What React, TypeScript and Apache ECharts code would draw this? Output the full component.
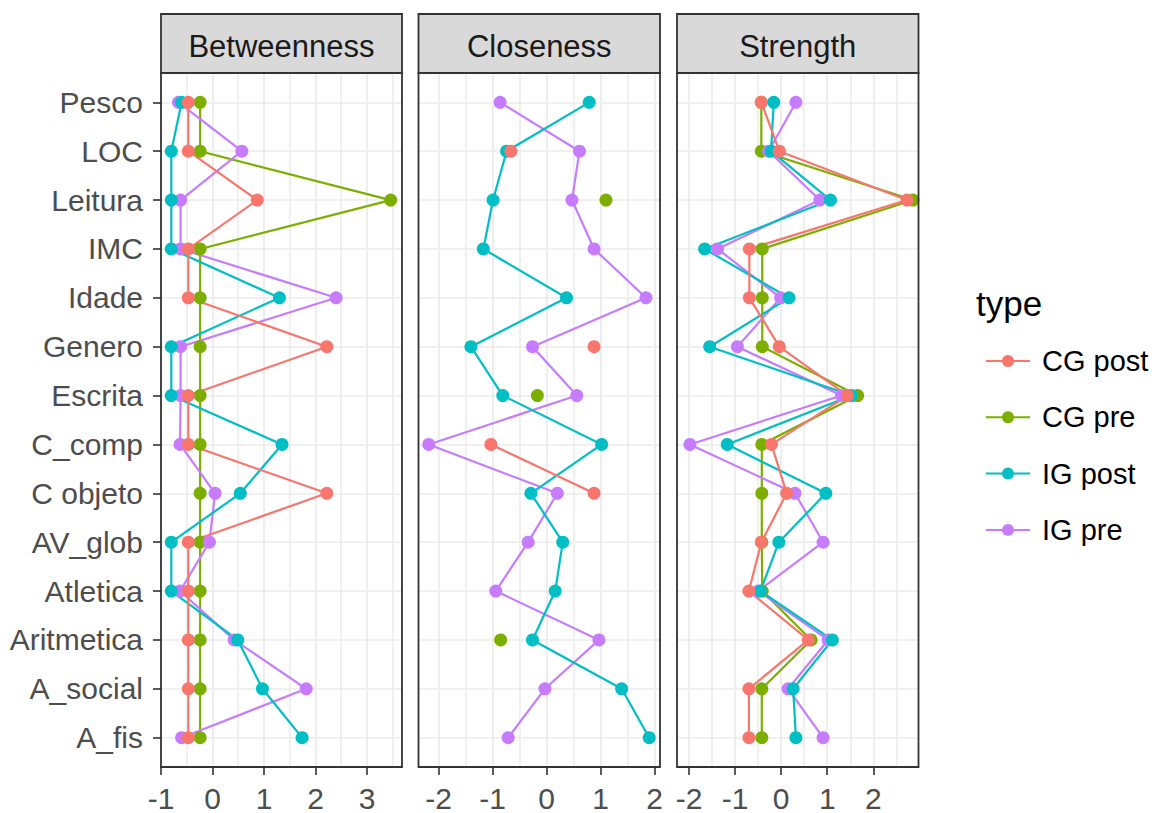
import React, { useEffect, useRef } from "react";
import * as echarts from "echarts";

const categories = [
  "Pesco", "LOC", "Leitura", "IMC", "Idade", "Genero", "Escrita",
  "C_comp", "C objeto", "AV_glob", "Atletica", "Aritmetica", "A_social", "A_fis",
];
const seriesNames = ["CG post", "CG pre", "IG post", "IG pre"];
const seriesColors = ["#F8766D", "#7CAE00", "#00BFC4", "#C77CFF"];
const panelTitles = ["Betweenness", "Closeness", "Strength"];

// Betweenness
const betCGpost = [-0.47, -0.47, 0.87, -0.47, -0.47, 2.22, -0.47, -0.47, 2.22, -0.47, -0.47, -0.47, -0.47, -0.47];
const betCGpre = [-0.24, -0.24, 3.46, -0.24, -0.24, -0.24, -0.24, -0.24, -0.24, -0.24, -0.24, -0.24, -0.24, -0.24];
const betIGpost = [-0.6, -0.8, -0.8, -0.8, 1.3, -0.8, -0.8, 1.35, 0.54, -0.8, -0.8, 0.49, 0.97, 1.74];
const betIGpre = [-0.66, 0.57, -0.62, -0.62, 2.4, -0.62, -0.62, -0.63, 0.05, -0.06, -0.63, 0.42, 1.82, -0.6];

// Closeness
const cloCGpost = [null, -0.66, null, null, null, 0.88, null, -1.03, 0.88, null, null, null, null, null];
const cloCGpre = [null, null, 1.1, null, null, null, -0.17, null, null, null, null, -0.85, null, null];
const cloIGpost = [0.79, -0.74, -0.99, -1.17, 0.37, -1.4, -0.81, 1.02, -0.29, 0.3, 0.16, -0.26, 1.39, 1.9];
const cloIGpre = [-0.86, 0.61, 0.47, 0.88, 1.84, -0.26, 0.56, -2.18, 0.2, -0.34, -0.94, 0.97, -0.03, -0.71];

// Strength
const strCGpost = [-0.43, -0.04, 2.73, -0.69, -0.69, -0.04, 1.44, -0.21, 0.12, -0.43, -0.7, 0.59, -0.7, -0.7];
const strCGpre = [-0.43, -0.43, 2.86, -0.41, -0.41, -0.41, 1.66, -0.42, -0.42, -0.42, -0.41, 0.65, -0.42, -0.42];
const strIGpost = [-0.16, -0.22, 1.07, -1.66, 0.17, -1.55, 1.53, -1.17, 0.97, -0.05, -0.45, 1.11, 0.26, 0.32];
const strIGpre = [0.32, -0.27, 0.84, -1.38, -0.01, -0.95, 1.31, -1.98, 0.3, 0.91, -0.5, 1.02, 0.15, 0.91];

// axis limits and ticks
const betLimits = [-1.0, 3.68];
const cloLimits = [-2.37, 2.1];
const strLimits = [-2.26, 2.98];
const betTicks = [-1, 0, 1, 2, 3];
const cloTicks = [-2, -1, 0, 1, 2];
const strTicks = [-2, -1, 0, 1, 2];
const betMinor = [-0.5, 0.5, 1.5, 2.5, 3.5];
const cloMinor = [-1.5, -0.5, 0.5, 1.5];
const strMinor = [-1.5, -0.5, 0.5, 1.5, 2.5];

const panelValues = [
  [betCGpost, betCGpre, betIGpost, betIGpre],
  [cloCGpost, cloCGpre, cloIGpost, cloIGpre],
  [strCGpost, strCGpre, strIGpost, strIGpre],
];
const panelLimits = [betLimits, cloLimits, strLimits];
const panelTicks = [betTicks, cloTicks, strTicks];
const panelMinor = [betMinor, cloMinor, strMinor];

// layout (pixels)
const FONT = '"Liberation Sans", Arial, Helvetica, sans-serif';
const panelLeft = [161, 418.5, 677];
const panelWidth = [241, 241.5, 241.5];
const panelTop = 73;
const panelBottom = 767;
const stripTop = 14;
const drawOrder = [1, 3, 2, 0];

export default function App() {
  const ref = useRef<HTMLDivElement>(null);

  useEffect(() => {
    if (!ref.current) return;
    const chart = echarts.init(ref.current, undefined, { renderer: "svg" });
    const catIdx = categories.map((_, i) => i);

    const grids: any[] = [];
    const xAxes: any[] = [];
    const yAxes: any[] = [];
    const lineSeries: any[] = [];
    const pointSeries: any[] = [];
    const graphics: any[] = [];

    panelTitles.forEach((title, p) => {
      grids.push({
        left: panelLeft[p],
        width: panelWidth[p],
        top: panelTop,
        height: panelBottom - panelTop,
        containLabel: false,
      });
      xAxes.push({
        type: "value",
        gridIndex: p,
        position: "bottom",
        min: panelLimits[p][0],
        max: panelLimits[p][1],
        axisLine: { show: false, onZero: false },
        axisTick: {
          show: true,
          customValues: panelTicks[p],
          length: 8,
          lineStyle: { color: "#333333", width: 1.6 },
        },
        axisLabel: {
          show: true,
          customValues: panelTicks[p],
          formatter: (v: number) => String(v),
          fontSize: 30,
          color: "#4D4D4D",
          fontFamily: FONT,
          margin: 16,
        },
        splitLine: { show: true, lineStyle: { color: "#EBEBEB", width: 1.7 } },
      });
      xAxes.push({
        type: "value",
        gridIndex: p,
        position: "top",
        min: panelLimits[p][0],
        max: panelLimits[p][1],
        axisLine: { show: false, onZero: false },
        axisTick: { show: false, customValues: panelMinor[p] },
        axisLabel: { show: false, customValues: panelMinor[p] },
        splitLine: { show: true, lineStyle: { color: "#EBEBEB", width: 1.5 } },
      });
      yAxes.push({
        type: "value",
        gridIndex: p,
        min: -0.6,
        max: 13.6,
        inverse: true,
        axisLine: { show: false, onZero: false },
        axisTick: {
          show: p === 0,
          customValues: catIdx,
          length: 8,
          lineStyle: { color: "#333333", width: 1.6 },
        },
        axisLabel: {
          show: p === 0,
          customValues: catIdx,
          formatter: (v: number) => categories[Math.round(v)] ?? "",
          fontSize: 30,
          color: "#4D4D4D",
          fontFamily: FONT,
          margin: 18,
          padding: [9, 0, 0, 0],
        },
        splitLine: { show: true, lineStyle: { color: "#EBEBEB", width: 1.7 } },
      });

      drawOrder.forEach((k) => {
        const vals = panelValues[p][k];
        lineSeries.push({
          type: "line",
          name: seriesNames[k],
          xAxisIndex: 2 * p,
          yAxisIndex: p,
          data: vals.map((v, i) => [v == null ? "-" : v, i]),
          symbol: "circle",
          symbolSize: 13,
          showSymbol: false,
          connectNulls: false,
          color: seriesColors[k],
          itemStyle: { color: seriesColors[k] },
          lineStyle: { color: seriesColors[k], width: 2.2 },
          silent: true,
          z: 2,
        });
        pointSeries.push({
          type: "scatter",
          name: seriesNames[k],
          xAxisIndex: 2 * p,
          yAxisIndex: p,
          data: vals
            .map((v, i) => (v == null ? null : [v, i]))
            .filter((d) => d !== null),
          symbol: "circle",
          symbolSize: 13,
          color: seriesColors[k],
          itemStyle: { color: seriesColors[k], opacity: 1 },
          silent: true,
          z: 3,
        });
      });

      // panel border
      graphics.push({
        type: "rect",
        shape: { x: panelLeft[p], y: panelTop, width: panelWidth[p], height: panelBottom - panelTop },
        style: { fill: "none", stroke: "#333333", lineWidth: 1.8 },
        z: 50,
        silent: true,
      });
      // strip
      graphics.push({
        type: "rect",
        shape: { x: panelLeft[p], y: stripTop, width: panelWidth[p], height: panelTop - stripTop },
        style: { fill: "#D9D9D9", stroke: "#333333", lineWidth: 1.8 },
        z: 50,
        silent: true,
      });
      graphics.push({
        type: "text",
        x: panelLeft[p] + panelWidth[p] / 2,
        y: 46.5,
        style: {
          text: title,
          fill: "#1A1A1A",
          font: `31px ${FONT}`,
          align: "center",
          verticalAlign: "middle",
        },
        z: 51,
        silent: true,
      });
    });

    graphics.push({
      type: "text",
      x: 976,
      y: 303,
      style: {
        text: "type",
        fill: "#000000",
        font: `35px ${FONT}`,
        align: "left",
        verticalAlign: "middle",
      },
      z: 51,
      silent: true,
    });

    chart.setOption({
      animation: false,
      backgroundColor: "#FFFFFF",
      grid: grids,
      xAxis: xAxes,
      yAxis: yAxes,
      legend: {
        data: seriesNames,
        orient: "vertical",
        left: 980,
        top: 339,
        itemWidth: 44,
        itemHeight: 15,
        itemGap: 22.3,
        selectedMode: false,
        textStyle: {
          fontSize: 29,
          color: "#000000",
          fontFamily: FONT,
          lineHeight: 30,
          padding: [4, 0, 0, 7],
        },
      },
      series: [...lineSeries, ...pointSeries],
      graphic: graphics,
    });

    return () => chart.dispose();
  }, []);

  return (
    <div
      ref={ref}
      style={{ position: "fixed", left: 0, top: 0, width: 1156, height: 813 }}
    />
  );
}
